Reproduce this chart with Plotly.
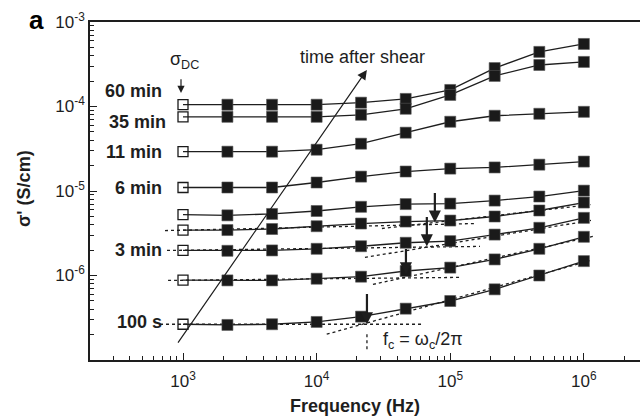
import numpy as np
import plotly.graph_objects as go

# ---- data ----
freq = [1e3, 2.15e3, 4.64e3, 1e4, 2.15e4, 4.64e4, 1e5, 2.15e5, 4.64e5, 1e6]

labels = ["60 min", "35 min", "11 min", "6 min", "", "", "3 min", "", "100 s"]
s_60min = [1.05e-4, 1.05e-4, 1.05e-4, 1.05e-4, 1.11e-4, 1.23e-4, 1.57e-4, 2.85e-4, 4.43e-4, 5.5e-4]
s_35min = [7.55e-5, 7.55e-5, 7.55e-5, 7.55e-5, 7.98e-5, 9.4e-5, 1.37e-4, 2.30e-4, 3.1e-4, 3.37e-4]
s_11min = [2.92e-5, 2.92e-5, 2.92e-5, 3.08e-5, 3.63e-5, 4.9e-5, 6.6e-5, 7.77e-5, 8.2e-5, 8.65e-5]
s_6min = [1.1e-5, 1.1e-5, 1.1e-5, 1.26e-5, 1.48e-5, 1.7e-5, 1.84e-5, 1.9e-5, 2.05e-5, 2.23e-5]
s_5 = [5.26e-6, 5.15e-6, 5.35e-6, 5.8e-6, 6.5e-6, 7.0e-6, 7.1e-6, 7.7e-6, 8.6e-6, 1.01e-5]
s_4 = [3.45e-6, 3.45e-6, 3.55e-6, 3.83e-6, 4.12e-6, 4.35e-6, 4.47e-6, 4.99e-6, 5.88e-6, 7.3e-6]
s_3min = [1.98e-6, 1.96e-6, 1.98e-6, 2.07e-6, 2.22e-6, 2.44e-6, 2.55e-6, 3.05e-6, 3.67e-6, 4.81e-6]
s_2 = [8.83e-7, 8.75e-7, 8.75e-7, 9.16e-7, 9.68e-7, 1.13e-6, 1.24e-6, 1.55e-6, 2.07e-6, 2.87e-6]
s_100s = [2.65e-7, 2.6e-7, 2.65e-7, 2.82e-7, 3.26e-7, 4.05e-7, 4.99e-7, 6.86e-7, 1.0e-6, 1.48e-6]
series = [s_60min, s_35min, s_11min, s_6min, s_5, s_4, s_3min, s_2, s_100s]
label_dy = [0.16, -0.06, 0.0, 0.0, 0.0, 0.0, 0.0, 0.0, 0.03]

# dotted guide lines (low-frequency plateau and high-frequency power law) for last 4 series
plateau_f0 = [733, 759, 773, 673]
plateau_s0 = [3.40e-6, 1.98e-6, 8.75e-7, 2.65e-7]
plateau_f1 = [1.53e5, 1.67e5, 1.17e5, 6.3e4]
plateau_s1 = [4.12e-6, 2.21e-6, 9.5e-7, 2.65e-7]
power_f0 = [3.08e4, 2.3e4, 2.64e4, 1.19e4]
power_s0 = [3.6e-6, 1.64e-6, 7.85e-7, 2.02e-7]
power_f1 = [1.13e6, 1.13e6, 1.17e6, 1.13e6]
power_s1 = [6.9e-6, 4.48e-6, 2.9e-6, 1.51e-6]

# crossover frequencies and arrows
fc = [7.67e4, 6.68e4, 4.66e4, 2.38e4]
arrow_top = [9.84e-6, 5.13e-6, 2.15e-6, 6.31e-7]
arrow_tip = [4.24e-6, 2.21e-6, 1.03e-6, 2.65e-7]
fc_mark_s = [2.02e-7, 1.27e-7]

ytick_vals = [1e-6, 1e-5, 1e-4, 1e-3]
ytick_text = ["10<sup>-6</sup>", "10<sup>-5</sup>", "10<sup>-4</sup>", "10<sup>-3</sup>"]
xtick_vals = [1e3, 1e4, 1e5, 1e6]
xtick_text = ["10<sup>3</sup>", "10<sup>4</sup>", "10<sup>5</sup>", "10<sup>6</sup>"]

FONT = "Liberation Sans, Arial, sans-serif"
INK = "#1e1e1e"

fig = go.Figure()

# dotted guides
for i in range(4):
    fig.add_trace(go.Scatter(x=[plateau_f0[i], plateau_f1[i]], y=[plateau_s0[i], plateau_s1[i]],
                             mode="lines", line=dict(color=INK, width=1.3, dash="dot"),
                             showlegend=False, hoverinfo="skip"))
    fig.add_trace(go.Scatter(x=[power_f0[i], power_f1[i]], y=[power_s0[i], power_s1[i]],
                             mode="lines", line=dict(color=INK, width=1.3, dash="dot"),
                             showlegend=False, hoverinfo="skip"))
fig.add_trace(go.Scatter(x=[fc[3], fc[3]], y=fc_mark_s, mode="lines",
                         line=dict(color=INK, width=1.3, dash="dot"),
                         showlegend=False, hoverinfo="skip"))

# data series
for s in series:
    fig.add_trace(go.Scatter(x=freq, y=s, mode="lines", line=dict(color=INK, width=1.3),
                             showlegend=False))
    fig.add_trace(go.Scatter(x=freq[1:], y=s[1:], mode="markers",
                             marker=dict(symbol="square", size=11, color="#1a1a1a",
                                         line=dict(width=0.6, color="#555")),
                             showlegend=False))
    fig.add_trace(go.Scatter(x=freq[:1], y=s[:1], mode="markers",
                             marker=dict(symbol="square-open", size=10, color="#1a1a1a",
                                         line=dict(width=1.3)),
                             showlegend=False))

L = np.log10
ann = []
# series labels
for lab, s, dy in zip(labels, series, label_dy):
    if lab:
        ann.append(dict(x=L(720) + (0.03 if lab == "35 min" else 0.0), y=L(s[0]) + dy,
                        xref="x", yref="y", text="<b>%s</b>" % lab, showarrow=False,
                        xanchor="right", yanchor="middle",
                        font=dict(family=FONT, size=18, color=INK)))
# fc arrows
for i in range(4):
    ann.append(dict(x=L(fc[i]), y=L(arrow_tip[i]), ax=L(fc[i]), ay=L(arrow_top[i]),
                    xref="x", yref="y", axref="x", ayref="y", text="", showarrow=True,
                    arrowhead=2, arrowsize=1.1, arrowwidth=2.2, arrowcolor=INK, standoff=0))
# sigma_DC
ann.append(dict(x=L(1.02e3), y=-3.45, xref="x", yref="y", text="σ<sub>DC</sub>", showarrow=False,
                font=dict(family=FONT, size=18, color=INK), xanchor="center", yanchor="middle"))
ann.append(dict(x=L(966), y=-3.84, ax=L(966), ay=-3.66, xref="x", yref="y", axref="x", ayref="y",
                text="", showarrow=True, arrowhead=2, arrowsize=1.2, arrowwidth=1.2,
                arrowcolor=INK, standoff=0))
# time after shear
ann.append(dict(x=4.376, y=-3.567, ax=2.955, ay=-6.813, xref="x", yref="y", axref="x", ayref="y",
                text="", showarrow=True, arrowhead=2, arrowsize=1.6, arrowwidth=1.2,
                arrowcolor=INK, standoff=0))
ann.append(dict(x=4.346, y=-3.41, xref="x", yref="y", text="time after shear", showarrow=False,
                font=dict(family=FONT, size=18, color=INK), xanchor="center", yanchor="middle"))
# fc text
ann.append(dict(x=4.48, y=-6.77, xref="x", yref="y",
                text="f<sub>c</sub> = ω<sub>c</sub>/2π", showarrow=False,
                font=dict(family=FONT, size=18, color=INK), xanchor="left", yanchor="middle"))
# panel letter
ann.append(dict(x=-0.097, y=1.005, xref="paper", yref="paper", text="<b>a</b>", showarrow=False,
                font=dict(family=FONT, size=26, color="black"), xanchor="center", yanchor="middle"))
# axis titles
ann.append(dict(x=0.482, y=-0.137, xref="paper", yref="paper", text="<b>Frequency (Hz)</b>",
                showarrow=False, font=dict(family=FONT, size=18, color=INK),
                xanchor="center", yanchor="middle"))
ann.append(dict(x=-0.12, y=0.506, xref="paper", yref="paper", text="<b>σ' (S/cm)</b>",
                showarrow=False, textangle=-90, font=dict(family=FONT, size=18, color=INK),
                xanchor="center", yanchor="middle"))

fig.update_layout(
    width=640, height=418,
    margin=dict(l=90, r=0, t=22, b=58),
    plot_bgcolor="white", paper_bgcolor="white",
    annotations=ann,
    showlegend=False,
    font=dict(family=FONT, color=INK),
)
fig.update_xaxes(type="log", range=[2.304, 6.42], showgrid=False, zeroline=False,
                 showline=True, linewidth=1.6, linecolor=INK, mirror=True,
                 ticks="inside", ticklen=7, tickwidth=1.2, tickcolor=INK,
                 tickmode="array", tickvals=xtick_vals, ticktext=xtick_text,
                 ticklabelstandoff=5,
                 tickfont=dict(family=FONT, size=17, color=INK),
                 minor=dict(ticks="inside", ticklen=4, tickwidth=1, tickcolor=INK, dtick="D1", showgrid=False))
fig.update_yaxes(type="log", range=[-7, -3], showgrid=False, zeroline=False,
                 showline=True, linewidth=1.6, linecolor=INK, mirror=False,
                 ticks="inside", ticklen=7, tickwidth=1.2, tickcolor=INK,
                 tickmode="array", tickvals=ytick_vals, ticktext=ytick_text,
                 tickfont=dict(family=FONT, size=17, color=INK),
                 minor=dict(ticks="inside", ticklen=4, tickwidth=1, tickcolor=INK, dtick="D1", showgrid=False))

fig.write_html("out.html")
